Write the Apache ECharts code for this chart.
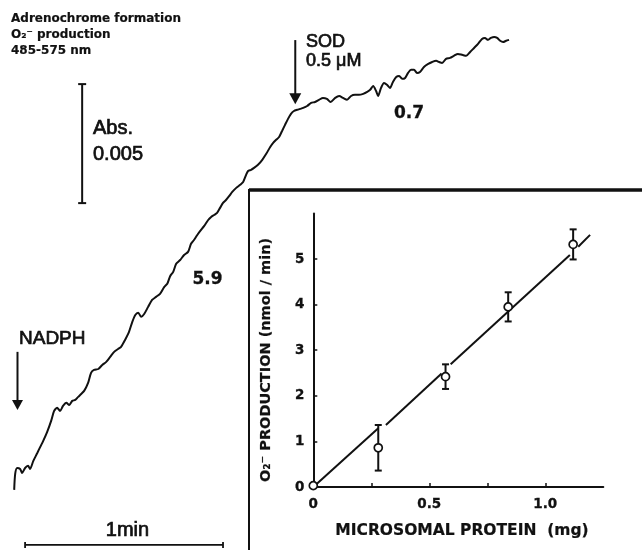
<!DOCTYPE html>
<html>
<head>
<meta charset="utf-8">
<script src="https://cdn.jsdelivr.net/npm/echarts@6/dist/echarts.min.js"></script>
<style>
html, body { margin: 0; padding: 0; background: #fff; }
#chart { width: 642px; height: 550px; }
</style>
</head>
<body>
<div id="chart"></div>
<script>
// recorder trace: time after NADPH (s) and absorbance change (x 10^-3)
const traceSec = [0,0.3,0.9,1.8,2.4,3.3,4.2,4.8,5.8,7.0,7.9,8.8,10.0,11.2,12.1,13.0,13.9,14.8,15.8,16.7,17.6,18.5,19.4,20.3,21.2,22.4,23.3,24.2,25.5,26.7,27.9,29.1,30.3,31.5,32.4,33.6,34.8,35.8,36.7,37.6,38.5,39.4,40.6,41.8,43.0,44.2,45.5,46.4,47.3,48.2,49.1,50.3,51.5,52.7,53.6,54.5,55.5,56.4,57.6,58.8,59.7,60.6,61.5,62.4,63.3,64.2,65.2,66.1,67.3,68.5,69.4,70.3,70.9,71.8,72.7,73.9,75.2,76.4,77.6,78.5,79.4,80.3,81.2,82.1,83.0,83.9,84.8,85.8,86.7,87.6,88.8,90.0,91.2,92.4,93.6,94.8,95.9,97.3,98.5,99.7,100.9,102.1,103.3,104.5,105.8,107.0,107.9,108.8,109.7,110.3,111.2,112.1,113.0,113.9,114.8,115.8,116.7,117.6,118.5,119.4,120.3,121.2,122.1,123.0,124.2,125.5,126.7,127.9,128.8,129.7,130.9,132.1,133.3,134.5,135.8,137.0,138.2,139.4,140.6,141.8,142.7,143.6,144.5,145.5,146.4,147.3,148.2,149.1,150.0];
const traceMilliAbs = [0,0.67,0.92,0.88,0.71,0.92,1.01,0.88,1.22,1.55,1.81,2.06,2.44,2.90,3.32,3.45,3.32,3.53,3.66,3.57,3.74,3.78,3.91,4.03,4.16,4.50,4.92,5.04,5.08,5.25,5.38,5.59,5.80,5.92,6.01,6.30,6.64,7.06,7.35,7.44,7.27,7.39,7.69,7.98,8.11,8.24,8.53,8.66,8.99,9.16,9.50,9.66,9.87,10.00,10.34,10.50,10.71,10.88,11.09,11.34,11.47,11.55,11.64,11.85,12.06,12.18,12.35,12.52,12.69,12.82,12.94,13.24,13.40,13.45,13.53,13.66,13.87,14.12,14.41,14.58,14.71,14.83,15.08,15.34,15.59,15.80,15.92,15.97,16.01,16.05,16.13,16.26,16.30,16.39,16.47,16.43,16.30,16.47,16.55,16.47,16.39,16.55,16.60,16.60,16.64,16.72,16.81,16.97,16.76,16.55,16.89,17.10,17.02,16.89,17.14,17.35,17.39,17.27,17.31,17.52,17.65,17.65,17.52,17.56,17.77,17.90,17.98,18.03,17.98,17.94,18.11,18.15,18.24,18.32,18.28,18.24,18.40,18.57,18.74,18.95,18.99,18.91,18.99,19.03,18.99,18.87,18.82,18.87,18.91];

// additions on the trace (s) and scale bars
const nadphAt = 1.0;
const sodAt = 85.2;
const timeBar = [3.3, 63.3];     // 1 min
const absBar = [12.05, 17.05];   // 0.005 Abs

// inset: O2- production vs microsomal protein
const proteinMg = [0, 0.28, 0.57, 0.84, 1.12];
const o2Rate = [0.03, 0.86, 2.42, 3.95, 5.32];
const o2Err = [0, 0.5, 0.27, 0.32, 0.33];
// fitted line, drawn in pieces as in the print
const fitPieces = [
  [[0, 0], [0.28, 1.29]],
  [[0.313, 1.36], [0.553, 2.49]],
  [[0.592, 2.69], [1.106, 5.09]],
  [[1.142, 5.27], [1.193, 5.53]]
];
const yTicks = [0, 1, 2, 3, 4, 5];
const xTicks = [0.25, 0.5, 0.75, 1.0];
const xLabels = [0, 0.5, 1.0];

const ink = '#111';
const chart = echarts.init(document.getElementById('chart'));

const fitSeries = fitPieces.map(seg => ({
  type: 'line',
  xAxisIndex: 1,
  yAxisIndex: 1,
  data: seg,
  showSymbol: false,
  silent: true,
  lineStyle: { color: ink, width: 2 },
  z: 2
}));

const tickFont = {
  margin: 10, color: ink,
  fontFamily: 'DejaVu Sans', fontWeight: 'bold', fontSize: 13.5,
  textBorderColor: ink, textBorderWidth: 0.3
};

const option = {
  animation: false,
  backgroundColor: '#fff',
  grid: [
    { left: 1, top: 2, width: 640, height: 547.4 },
    { left: 313.3, top: 213.4, width: 290, height: 273.6 }
  ],
  xAxis: [
    { gridIndex: 0, type: 'value', min: -4, max: 190, show: false },
    {
      gridIndex: 1, type: 'value', min: 0, max: 1.25, interval: 0.25,
      axisLine: { lineStyle: { color: ink, width: 2 } },
      axisTick: { inside: true, length: 4, customValues: xTicks, lineStyle: { color: ink, width: 1.5 } },
      axisLabel: Object.assign({ customValues: xLabels, formatter: v => (v === 0 ? '0' : v.toFixed(1)) }, tickFont),
      splitLine: { show: false }
    }
  ],
  yAxis: [
    { gridIndex: 0, type: 'value', min: -2.5, max: 20.5, show: false },
    {
      gridIndex: 1, type: 'value', min: 0, max: 6, interval: 1,
      axisLine: { show: true, lineStyle: { color: ink, width: 2 } },
      axisTick: { show: true, inside: true, length: 4, customValues: yTicks, lineStyle: { color: ink, width: 1.5 } },
      axisLabel: Object.assign({ customValues: yTicks }, tickFont, { margin: 9 }),
      splitLine: { show: false }
    }
  ],
  series: [
    {
      type: 'line',
      xAxisIndex: 0,
      yAxisIndex: 0,
      data: traceSec.map((t, i) => [t, traceMilliAbs[i]]),
      showSymbol: false,
      smooth: 0.25,
      lineStyle: { color: ink, width: 2 }
    },
    ...fitSeries,
    {
      type: 'custom',
      xAxisIndex: 1,
      yAxisIndex: 1,
      data: proteinMg.map((x, i) => [x, o2Rate[i] - o2Err[i], o2Rate[i] + o2Err[i]]),
      z: 3,
      renderItem: (params, api) => {
        if (api.value(2) - api.value(1) === 0) return null;
        const top = api.coord([api.value(0), api.value(2)]);
        const bot = api.coord([api.value(0), api.value(1)]);
        const w = 3.5;
        const style = { stroke: ink, lineWidth: 2 };
        return {
          type: 'group',
          children: [
            { type: 'line', shape: { x1: top[0], y1: top[1], x2: bot[0], y2: bot[1] }, style },
            { type: 'line', shape: { x1: top[0] - w, y1: top[1], x2: top[0] + w, y2: top[1] }, style },
            { type: 'line', shape: { x1: bot[0] - w, y1: bot[1], x2: bot[0] + w, y2: bot[1] }, style }
          ]
        };
      }
    },
    {
      type: 'scatter',
      xAxisIndex: 1,
      yAxisIndex: 1,
      data: proteinMg.map((x, i) => [x, o2Rate[i]]),
      symbol: 'circle',
      symbolSize: 8,
      itemStyle: { color: '#fff', borderColor: ink, borderWidth: 1.7, opacity: 1 },
      z: 4
    }
  ]
};
chart.setOption(option);

// annotations placed from trace coordinates
const px = (t, a) => chart.convertToPixel({ gridIndex: 0 }, [t, a]);
const lineEl = (a, b, w) => ({
  type: 'line', shape: { x1: a[0], y1: a[1], x2: b[0], y2: b[1] },
  style: { stroke: ink, lineWidth: w }
});
const arrowDown = (t, aFrom, aTo, half, len) => {
  const s = px(t, aFrom), e = px(t, aTo);
  return [
    lineEl(s, [e[0], e[1] - len + 1], 2),
    { type: 'polygon', shape: { points: [[e[0] - half, e[1] - len], [e[0] + half, e[1] - len], [e[0], e[1]]] }, style: { fill: ink } }
  ];
};
// scanned print: give the plain lettering a slightly heavier stroke
const txt = (text, x, y, font, extra, heavy) => ({
  type: 'text', x, y,
  style: Object.assign({
    text, font, fill: ink, textVerticalAlign: 'middle',
    stroke: ink, lineWidth: heavy === undefined ? 0.7 : heavy
  }, extra || {})
});

const tb0 = px(timeBar[0], -2.31), tb1 = px(timeBar[1], -2.31);
const ab0 = px(20.6, absBar[0]), ab1 = px(20.6, absBar[1]);

const graphics = [
  // time scale bar
  lineEl(tb0, tb1, 1.8),
  lineEl([tb0[0], tb0[1] - 3], [tb0[0], tb0[1] + 3], 1.8),
  lineEl([tb1[0], tb1[1] - 3], [tb1[0], tb1[1] + 3], 1.8),
  // absorbance scale bar
  lineEl(ab0, ab1, 2),
  lineEl([ab0[0] - 4, ab0[1]], [ab0[0] + 4, ab0[1]], 2),
  lineEl([ab1[0] - 4, ab1[1]], [ab1[0] + 4, ab1[1]], 2),
  ...arrowDown(sodAt, 18.9, 16.2, 6, 11),
  ...arrowDown(nadphAt, 5.8, 3.36, 5.5, 10),
  // inset frame
  lineEl([249, 190], [642, 190], 3.5),
  lineEl([249, 189], [249, 550], 2),
  // labels
  txt('Adrenochrome formation', 11, 18.5, 'bold 12px "DejaVu Sans"', null, 0.2),
  txt('O₂⁻ production', 11, 34.5, 'bold 12px "DejaVu Sans"', null, 0.2),
  txt('485-575 nm', 11, 51, 'bold 12px "DejaVu Sans"', null, 0.2),
  txt('Abs.', 93, 128, '20px "Liberation Sans"'),
  txt('0.005', 93, 154, '20px "Liberation Sans"'),
  txt('SOD', 306, 42, '18px "Liberation Sans"'),
  txt('0.5 μM', 306, 61, '18px "Liberation Sans"'),
  txt('0.7', 409, 114, 'bold 17px "DejaVu Sans"', { textAlign: 'center' }, 0.3),
  txt('5.9', 207.5, 280, 'bold 17px "DejaVu Sans"', { textAlign: 'center' }, 0.3),
  txt('NADPH', 19, 338.5, '19px "Liberation Sans"'),
  txt('1min', 127.5, 530, '20px "Liberation Sans"', { textAlign: 'center' }),
  txt('MICROSOMAL PROTEIN  (mg)', 462, 531, 'bold 15.5px "DejaVu Sans"', { textAlign: 'center' }, 0.2),
  {
    type: 'text', x: 266, y: 360, rotation: Math.PI / 2,
    style: {
      text: 'O₂⁻ PRODUCTION (nmol / min)', font: 'bold 14.5px "DejaVu Sans"',
      fill: ink, stroke: ink, lineWidth: 0.2, textAlign: 'center', textVerticalAlign: 'middle'
    }
  }
];
chart.setOption({ graphic: graphics });
</script>
</body>
</html>
